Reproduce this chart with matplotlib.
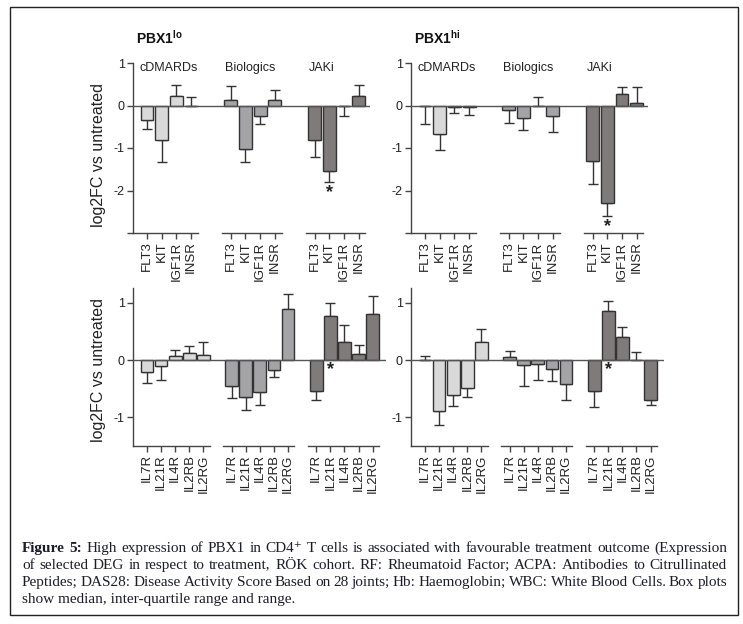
import matplotlib
matplotlib.use("Agg")
import matplotlib.pyplot as plt
from matplotlib.patches import Rectangle

plt.rcParams["font.family"] = ["Liberation Sans", "DejaVu Sans"]
plt.rcParams["axes.unicode_minus"] = False
plt.rcParams["mathtext.fontset"] = "custom"
plt.rcParams["mathtext.rm"] = "Liberation Sans"
plt.rcParams["mathtext.bf"] = "Liberation Sans:bold"

# -------------------------------
# Data (log2FC vs untreated, bar value and error bar end)
# -------------------------------
groups = ["cDMARDs", "Biologics", "JAKi"]
genes_top = ["FLT3", "KIT", "IGF1R", "INSR"]
genes_bot = ["IL7R", "IL21R", "IL4R", "IL2RB", "IL2RG"]

lo_top_val = [[-0.33, -0.81, 0.22, -0.02], [0.14, -1.03, -0.25, 0.14], [-0.80, -1.55, -0.02, 0.22]]
lo_top_end = [[-0.56, -1.34, 0.49, 0.19], [0.45, -1.32, -0.43, 0.36], [-1.21, -1.81, -0.25, 0.49]]
hi_top_val = [[0.0, -0.68, -0.04, -0.03], [-0.10, -0.30, 0.0, -0.25], [-1.30, -2.30, 0.26, 0.07]]
hi_top_end = [[-0.43, -1.05, -0.17, -0.23], [-0.40, -0.58, 0.20, -0.62], [-1.85, -2.59, 0.43, 0.44]]

lo_bot_val = [[-0.20, -0.11, 0.07, 0.12, 0.09], [-0.46, -0.64, -0.56, -0.17, 0.89], [-0.54, 0.77, 0.32, 0.10, 0.81]]
lo_bot_end = [[-0.40, -0.34, 0.17, 0.24, 0.32], [-0.66, -0.87, -0.78, -0.30, 1.16], [-0.70, 0.99, 0.61, 0.27, 1.12]]
hi_bot_val = [[0.0, -0.88, -0.61, -0.49, 0.31], [0.06, -0.09, -0.06, -0.16, -0.41], [-0.54, 0.86, 0.41, 0.0, -0.69]]
hi_bot_end = [[0.08, -1.13, -0.80, -0.65, 0.54], [0.16, -0.46, -0.34, -0.36, -0.70], [-0.81, 1.03, 0.58, 0.14, -0.78]]

# significance stars: (group index, gene index, y)
star_lo_top = (2, 1, -2.04)
star_hi_top = (2, 1, -2.84)
star_lo_bot = (2, 1, -0.17)
star_hi_bot = (2, 1, -0.17)

colors = ["#d9d9d9", "#a4a4a6", "#7f7b7b"]
edge = "#333333"
W, H = 743, 624

fig = plt.figure(figsize=(W / 100, H / 100), dpi=100)


def panel(left, top, width, height, genes, vals, ends, gap, bw, star,
          show_groups, xlim, ylim, yticks, ylabels):
    ax = fig.add_axes([left / W, 1 - (top + height) / H, width / W, height / H])
    n = len(genes)
    pos_all, lab_all = [], []
    for g in range(3):
        pos = [g * gap + i for i in range(n)]
        err_lo = [max(v - e, 0) for v, e in zip(vals[g], ends[g])]
        err_hi = [max(e - v, 0) for v, e in zip(vals[g], ends[g])]
        ax.bar(pos, vals[g], width=bw, color=colors[g], edgecolor=edge,
               linewidth=1.0, zorder=3)
        ax.errorbar(pos, vals[g], yerr=[err_lo, err_hi], fmt="none",
                    ecolor=edge, elinewidth=1.0, capsize=3.5, capthick=1.0,
                    zorder=2)
        # broken x axis, one piece per group
        x0 = xlim[0] if g == 0 else g * gap - 0.6
        ax.plot([x0, g * gap + n - 1 + 0.45], [0, 0], color="#444444", lw=1.0,
                transform=ax.get_xaxis_transform(), clip_on=False)
        pos_all += pos
        lab_all += genes
        if show_groups:
            cx = [(n - 1) / 2, (n - 1) / 2 - 0.2, 0.5][g] + g * gap
            ax.text(cx, 0.88, groups[g], ha="center", va="center",
                    fontsize=9, color="#222222")
    ax.axhline(0, color="#555555", lw=1.0, zorder=4)
    gi, ii, sy = star
    ax.text(gi * gap + ii, sy, "*", ha="center", va="center", fontsize=13,
            color="#222222", fontweight="bold")

    ax.set_xlim(*xlim)
    ax.set_ylim(*ylim)
    ax.set_xticks(pos_all)
    ax.set_xticklabels(lab_all, rotation=90, fontsize=9.5, color="#222222")
    ax.set_yticks(yticks)
    ax.set_yticklabels(ylabels, fontsize=9, color="#222222")
    for s in ["top", "right", "bottom"]:
        ax.spines[s].set_visible(False)
    ax.spines["left"].set_color("#444444")
    ax.spines["left"].set_linewidth(1.0)
    ax.tick_params(axis="both", length=4, width=1.0, color="#444444", pad=2)
    ax.patch.set_alpha(0)
    return ax


# top panels: 14.7 px per bar
u_top = 14.7
top_xlim = (-14 / u_top, (237 - 14) / u_top)
yt = [1, 0, -1, -2, -3]
ytl = ["1", "0", "-1", "-2", ""]
for left, vals, ends, star in [(133, lo_top_val, lo_top_end, star_lo_top),
                               (411, hi_top_val, hi_top_end, star_hi_top)]:
    ax = panel(left, 63, 237, 170, genes_top, vals, ends, 5.7, 0.88, star, True,
               top_xlim, (-3, 1), yt, ytl)
    if left == 133:
        ax.set_ylabel("log2FC vs untreated", fontsize=11.5, color="#222222")
        ax.yaxis.set_label_coords(-27 / 237, 0.46)

# bottom panels: 14.1 px per bar
u_bot = 14.1
bot_xlim = (-14 / u_bot, (253 - 14) / u_bot)
yb = [1, 0, -1]
ybl = ["1", "0", "-1"]
for left, vals, ends, star in [(133, lo_bot_val, lo_bot_end, star_lo_bot),
                               (411, hi_bot_val, hi_bot_end, star_hi_bot)]:
    ax = panel(left, 288, 253, 158, genes_bot, vals, ends, 6.0, 0.9, star, False,
               bot_xlim, (-1.5, 1.26), yb, ybl)
    if left == 133:
        ax.set_ylabel("log2FC vs untreated", fontsize=11.5, color="#222222")
        ax.yaxis.set_label_coords(-27 / 253, 0.48)

fig.text(136 / W, 1 - 38 / H, r"PBX1$^{\mathbf{lo}}$", fontsize=10, fontweight="bold",
         va="center", color="#111111")
fig.text(414 / W, 1 - 38 / H, r"PBX1$^{\mathbf{hi}}$", fontsize=10, fontweight="bold",
         va="center", color="#111111")

# -------------------------------
# Caption (justified)
# -------------------------------
caption = [
    "Figure 5: High expression of PBX1 in CD4\u207a T cells is associated with favourable treatment outcome (Expression",
    "of selected DEG in respect to treatment, R\u00d6K cohort. RF: Rheumatoid Factor; ACPA: Antibodies to Citrullinated",
    "Peptides; DAS28: Disease Activity Score Based on 28 joints; Hb: Haemoglobin; WBC: White Blood Cells. Box plots",
    "show median, inter-quartile range and range.",
]
cap_font = dict(fontsize=11, va="baseline", family=["Liberation Serif", "DejaVu Serif"],
                color="#1c1c2c")
renderer = fig.canvas.get_renderer()
cap_x0, cap_x1 = 22, 727
for k, line in enumerate(caption):
    y = 1 - (552 + k * 17) / H
    if k == len(caption) - 1:
        fig.text(cap_x0 / W, y, line, **cap_font)
        continue
    words = line.split(" ")
    texts = []
    for j, w in enumerate(words):
        bold = (k == 0 and j < 2)
        texts.append(fig.text(0, y, w, fontweight="bold" if bold else "normal",
                              **cap_font))
    widths = [t.get_window_extent(renderer).width for t in texts]
    gapw = (cap_x1 - cap_x0 - sum(widths)) / (len(words) - 1)
    x = cap_x0
    for t, w in zip(texts, widths):
        t.set_x(x / W)
        x += w + gapw

fig.add_artist(Rectangle((10 / W, 1 - 615 / H), 728 / W, 608 / H, fill=False,
                         edgecolor="#222222", lw=1.0, transform=fig.transFigure))

fig.savefig("out.png", dpi=100)
